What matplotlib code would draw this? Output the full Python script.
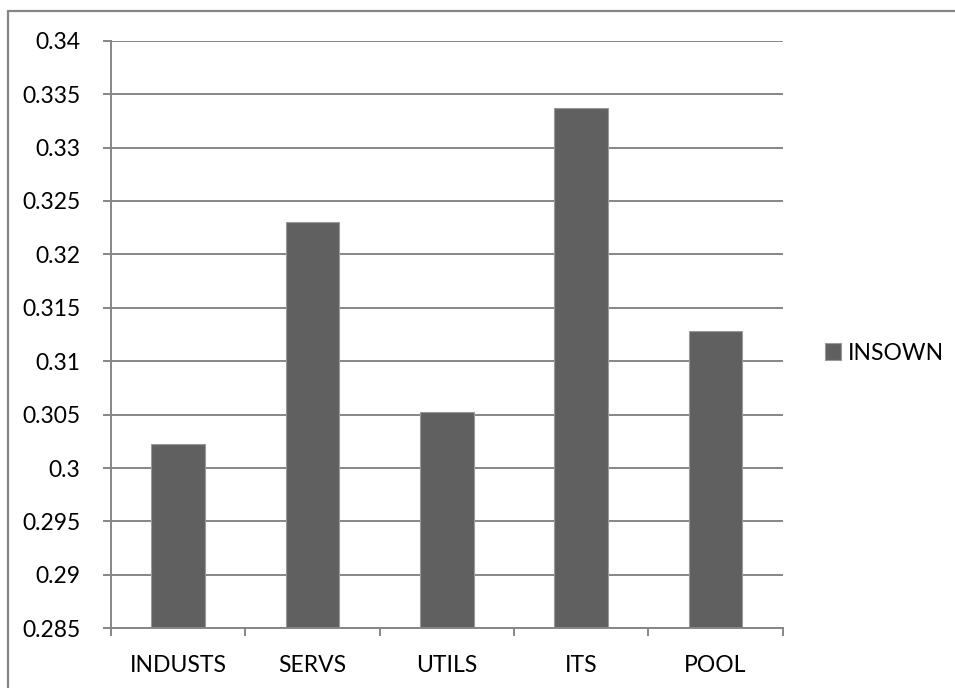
import matplotlib
matplotlib.use("Agg")
import matplotlib.pyplot as plt
from matplotlib.patches import Rectangle
import numpy as np

# institutional ownership by sector group
sectors = ["INDUSTS", "SERVS", "UTILS", "ITS", "POOL"]
insown = [0.30226, 0.32302, 0.30528, 0.33373, 0.31287]
series_name = "INSOWN"

y_ticks = [0.285, 0.29, 0.295, 0.3, 0.305, 0.31, 0.315, 0.32, 0.325, 0.33, 0.335, 0.34]
y_labels = ["0.285", "0.29", "0.295", "0.3", "0.305", "0.31", "0.315", "0.32",
            "0.325", "0.33", "0.335", "0.34"]

plt.rcParams["font.family"] = ["Lato", "DejaVu Sans"]
fsize = 16.5

W, H = 955, 688
fig = plt.figure(figsize=(W / 100, H / 100), dpi=100)
fig.patch.set_facecolor("white")

ax = fig.add_axes([111 / W, 1 - 628.3 / H, (782.7 - 111) / W, (628.3 - 40.7) / H])

grey = "#868686"
x = np.arange(len(sectors))
ax.bar(x, np.array(insown) - 0.285, bottom=0.285, width=0.4, color="#606060",
       edgecolor="#9a9a9a", linewidth=0.8, label=series_name, zorder=3)

ax.set_xlim(-0.5, len(sectors) - 0.5)
ax.set_ylim(0.285, 0.34)
ax.set_yticks(y_ticks)
ax.set_yticklabels(y_labels)
ax.yaxis.grid(True, color=grey, linewidth=1.4, zorder=0)

# category ticks sit on the boundaries between bars
ax.set_xticks(np.arange(-0.5, len(sectors), 1.0))
ax.set_xticklabels([])
ax.set_xticks(x, minor=True)
ax.set_xticklabels(sectors, minor=True)
ax.tick_params(axis="x", which="major", length=6, width=1.4, color=grey, direction="out")
ax.tick_params(axis="x", which="minor", length=0, pad=19, labelsize=fsize)
ax.tick_params(axis="y", length=6, width=1.4, color=grey, direction="out",
               pad=16, labelsize=fsize)

for side in ["top", "right"]:
    ax.spines[side].set_visible(False)
for side in ["left", "bottom"]:
    ax.spines[side].set_color(grey)
    ax.spines[side].set_linewidth(1.4)
    ax.spines[side].set_zorder(4)

ax.legend(loc="center left", bbox_to_anchor=(825 / W, 1 - 353 / H),
          bbox_transform=fig.transFigure, frameon=False, fontsize=fsize,
          handlelength=0.7, handleheight=0.7, handletextpad=0.3,
          borderpad=0, borderaxespad=0)

# chart area border
fig.patches.append(Rectangle((8 / W, -0.1), 1.2, 1 - 11 / H + 0.1,
                             transform=fig.transFigure, fill=False,
                             edgecolor=grey, linewidth=1.6, clip_on=False))

fig.savefig("out.png", dpi=100, facecolor="white")
